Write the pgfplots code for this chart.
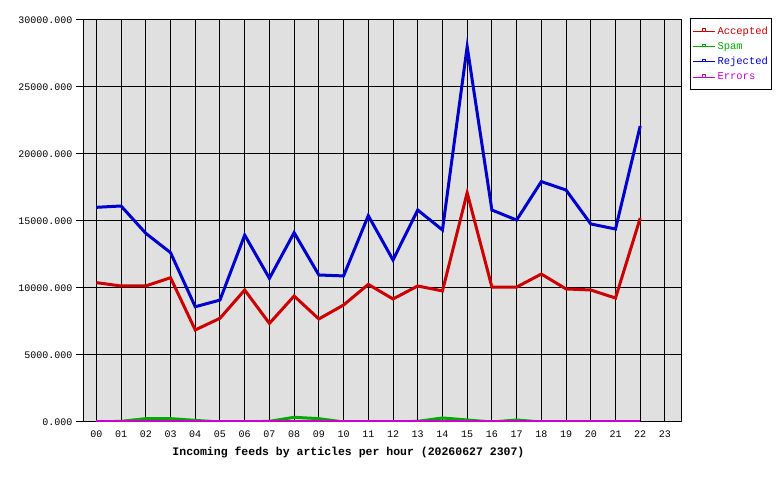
\documentclass[border=0pt]{standalone}
\usepackage{fontspec}
\setmainfont{Liberation Mono}
\usepackage{pgfplots}
\pgfplotsset{compat=1.18}
\definecolor{cacc}{RGB}{204,0,0}
\definecolor{cspam}{RGB}{0,170,0}
\definecolor{crej}{RGB}{0,0,204}
\definecolor{cerr}{RGB}{204,0,204}
\definecolor{bg}{RGB}{224,224,224}
\begin{document}
\begin{tikzpicture}[x=1bp,y=1bp]
\path[use as bounding box] (-84,-58) rectangle (696,422);
\begin{axis}[
  at={(0,0)}, anchor=south west,
  scale only axis, width=597bp, height=402bp,
  xmin=-0.5, xmax=23.65, ymin=0, ymax=30000,
  axis background/.style={fill=bg},
  axis line style={black, line width=1bp},
  xtick={0,...,23},
  xticklabels={00,01,02,03,04,05,06,07,08,09,10,11,12,13,14,15,16,17,18,19,20,21,22,23},
  xtick style={draw=none},
  xtick pos=bottom,
  ytick={0,5000,...,30000},
  ytick pos=left,
  ytick style={black, line width=1bp},
  tick align=outside,
  major tick length=8bp,
  grid=major,
  major grid style={black, line width=1bp},
  scaled y ticks=false,
  /pgf/number format/assume math mode=true,
  yticklabel style={/pgf/number format/fixed, /pgf/number format/fixed zerofill, /pgf/number format/precision=3, /pgf/number format/1000 sep={}},
  tick label style={font=\fontsize{10bp}{12bp}\selectfont},
  xticklabel style={anchor=base, yshift=-8bp},
  yticklabel style={anchor=east},
  xlabel={\textbf{Incoming feeds by articles per hour (20260627 2307)}},
  xlabel style={font=\fontsize{11.5bp}{13bp}\selectfont, at={(axis description cs:0.443,0)}, anchor=base, yshift=-34bp},
  legend style={at={(1,1)}, anchor=north west, xshift=9bp, yshift=2bp,
    draw=black, line width=1bp, fill=white,
    font=\fontsize{10.5bp}{12bp}\selectfont,
    inner xsep=2bp, inner ysep=6bp, row sep=2.6bp},
  legend cell align=left,
  legend image code/.code={
    \draw[#1, line width=1bp] (0bp,0bp) -- (22bp,0bp);
    \draw[#1, line width=0.8bp, fill=none] (9.5bp,0bp) rectangle (12.5bp,2.5bp);
  },
  every axis plot/.append style={line width=3bp, mark=none},
]
\addplot[cacc] coordinates {
(0,10400)(1,10150)(2,10150)(3,10770)(4,6870)(5,7740)(6,9850)(7,7360)(8,9400)(9,7690)(10,8730)(11,10270)(12,9180)(13,10150)(14,9780)(15,17110)(16,10070)(17,10070)(18,11040)(19,9930)(20,9850)(21,9250)(22,15220)};
\addlegendentry{\textcolor{cacc}{Accepted}}
\addplot[cspam] coordinates {
(0,0)(1,50)(2,250)(3,250)(4,120)(5,0)(6,0)(7,50)(8,350)(9,250)(10,0)(11,0)(12,0)(13,50)(14,300)(15,150)(16,0)(17,150)(18,0)(19,0)(20,0)(21,0)(22,0)};
\addlegendentry{\textcolor{cspam}{Spam}}
\addplot[crej] coordinates {
(0,16020)(1,16120)(2,14080)(3,12640)(4,8600)(5,9100)(6,13950)(7,10720)(8,14130)(9,10970)(10,10900)(11,15400)(12,12090)(13,15820)(14,14330)(15,28010)(16,15820)(17,15070)(18,17940)(19,17310)(20,14780)(21,14400)(22,22090)};
\addlegendentry{\textcolor{crej}{Rejected}}
\addplot[cerr] coordinates {
(0,0)(1,0)(2,0)(3,0)(4,0)(5,0)(6,0)(7,0)(8,0)(9,0)(10,0)(11,0)(12,0)(13,0)(14,0)(15,0)(16,0)(17,0)(18,0)(19,0)(20,0)(21,0)(22,0)};
\addlegendentry{\textcolor{cerr}{Errors}}
\end{axis}
\end{tikzpicture}
\end{document}
